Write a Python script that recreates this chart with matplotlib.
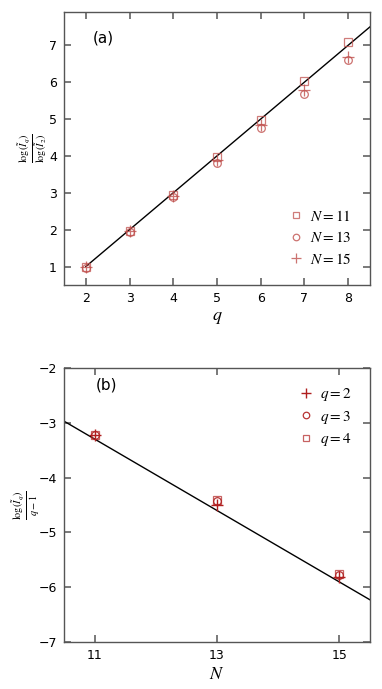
import numpy as np
import matplotlib
matplotlib.use("Agg")
import matplotlib.pyplot as plt

plt.rcParams["mathtext.fontset"] = "stix"

# ---- data, panel (a) ----
q_vals = [2, 3, 4, 5, 6, 7, 8]
ratio_n11 = [1.00, 1.97, 2.95, 3.97, 4.98, 6.03, 7.10]
ratio_n13 = [0.97, 1.93, 2.88, 3.82, 4.75, 5.68, 6.60]
ratio_n15 = [1.00, 1.97, 2.92, 3.88, 4.85, 5.78, 6.68]
fit_a_x = [2, 8.5]
fit_a_y = [1.0, 7.5]

# ---- data, panel (b) ----
n_vals = [11, 13, 15]
scaled_q2 = [-3.22, -4.50, -5.82]
scaled_q3 = [-3.22, -4.43, -5.78]
scaled_q4 = [-3.22, -4.40, -5.75]
fit_b_x = [10.5, 15.5]
fit_b_y = [-2.97, -6.23]

COL_A = "#c0504d"
COL_B = "#b01f1f"
GRAY = "#555555"


def style_axes(ax):
    for sp in ax.spines.values():
        sp.set_color(GRAY)
        sp.set_linewidth(1.0)
    ax.tick_params(direction="in", top=True, right=True, length=5, width=1.1,
                   color=GRAY, labelsize=9, pad=5)


fig = plt.figure(figsize=(3.82, 6.89), dpi=100)

# panel (a)
ax1 = fig.add_axes([0.1675, 0.5864, 0.801, 0.396])
ax1.plot(fit_a_x, fit_a_y, color="black", lw=1.0)
ax1.plot(q_vals, ratio_n11, ls="none", marker="s", ms=5.5, mfc="none",
         mec=COL_A, mew=0.9, alpha=0.75, label=r"$N=11$")
ax1.plot(q_vals, ratio_n13, ls="none", marker="o", ms=5.5, mfc="none",
         mec=COL_A, mew=0.9, alpha=0.8, label=r"$N=13$")
ax1.plot(q_vals, ratio_n15, ls="none", marker="+", ms=8, mec=COL_A,
         mew=0.9, alpha=0.8, label=r"$N=15$")
ax1.set_xlim(1.5, 8.5)
ax1.set_ylim(0.5, 7.9)
ax1.set_xticks(q_vals)
ax1.set_yticks([1, 2, 3, 4, 5, 6, 7])
style_axes(ax1)
ax1.set_xlabel(r"$q$", fontsize=13, labelpad=2)
ax1.set_ylabel(r"$\frac{\log(\tilde{I}_q)}{\log(\tilde{I}_2)}$", fontsize=10.5,
               labelpad=-1)
ax1.text(0.094, 0.89, "(a)", transform=ax1.transAxes, fontsize=11)
ax1.legend(loc="lower right", frameon=False, fontsize=11, handlelength=0.8,
           handletextpad=0.5, labelspacing=0.42, borderaxespad=0.8,
           markerscale=0.85)

# panel (b)
ax2 = fig.add_axes([0.1675, 0.0682, 0.801, 0.3977])
ax2.plot(fit_b_x, fit_b_y, color="black", lw=1.0)
ax2.plot(n_vals, scaled_q2, ls="none", marker="+", ms=8, mec=COL_B,
         mew=1.0, label=r"$q=2$")
ax2.plot(n_vals, scaled_q3, ls="none", marker="o", ms=5.5, mfc="none",
         mec=COL_B, mew=0.9, alpha=0.9, label=r"$q=3$")
ax2.plot(n_vals, scaled_q4, ls="none", marker="s", ms=5.5, mfc="none",
         mec=COL_B, mew=0.9, alpha=0.7, label=r"$q=4$")
ax2.set_xlim(10.5, 15.5)
ax2.set_ylim(-7, -2)
ax2.set_xticks(n_vals)
ax2.set_yticks([-7, -6, -5, -4, -3, -2])
style_axes(ax2)
ax2.set_xlabel(r"$N$", fontsize=13, labelpad=2)
ax2.set_ylabel(r"$\frac{\log(\tilde{I}_q)}{q-1}$", fontsize=10.5, labelpad=-2.5)
ax2.text(0.105, 0.92, "(b)", transform=ax2.transAxes, fontsize=11)
ax2.legend(loc="upper right", frameon=False, fontsize=11, handlelength=0.8,
           handletextpad=0.5, labelspacing=0.35, borderaxespad=0.8,
           markerscale=0.85)

fig.savefig("out.png", dpi=100)
